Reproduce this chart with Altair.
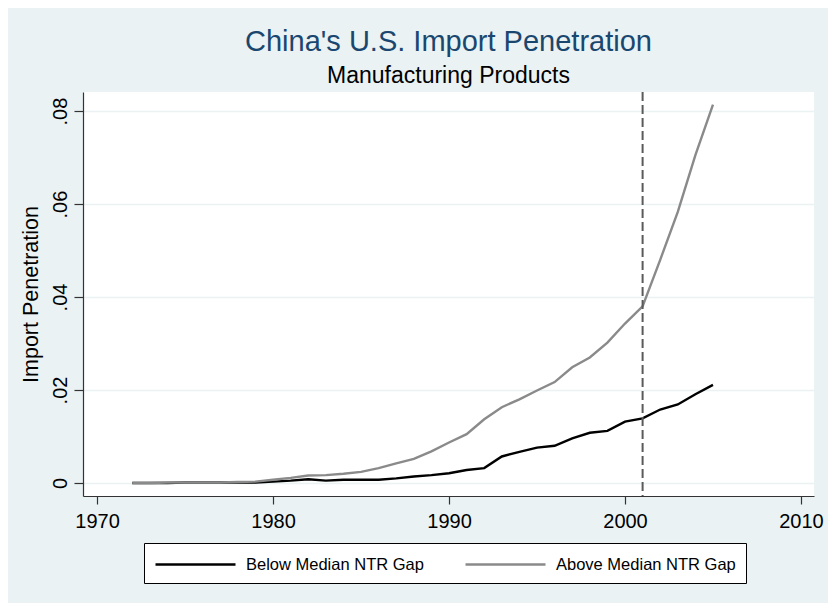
import altair as alt
import pandas as pd

years = list(range(1972, 2006))
below = [0.0000, 0.0000, 0.0000, 0.0001, 0.0001, 0.0001, 0.0001, 0.0001,
         0.0003, 0.0005, 0.0008, 0.0005, 0.0007, 0.0007, 0.0007, 0.0010,
         0.0014, 0.0017, 0.0021, 0.0028, 0.0032, 0.0057, 0.0067, 0.0076,
         0.0080, 0.0096, 0.0108, 0.0112, 0.0132, 0.0139, 0.0158, 0.0169,
         0.0191, 0.0211]
above = [0.0000, 0.0000, 0.0001, 0.0001, 0.0001, 0.0001, 0.0002,
         0.0003, 0.0007, 0.0011, 0.0016, 0.0017, 0.0020, 0.0024, 0.0032,
         0.0042, 0.0052, 0.0068, 0.0087, 0.0105, 0.0137, 0.0163, 0.0180,
         0.0199, 0.0217, 0.0249, 0.0270, 0.0302, 0.0343, 0.0380, 0.0480,
         0.0583, 0.0705, 0.0814]
series_names = ["Below Median NTR Gap", "Above Median NTR Gap"]
series_colors = ["#000000", "#8a8a8a"]
x_ticks = [1970, 1980, 1990, 2000, 2010]
y_ticks = [0, 0.02, 0.04, 0.06, 0.08]
wto_year = [2001]

df_below = pd.DataFrame({"year": years, "value": below, "series": series_names[0]})
df_above = pd.DataFrame({"year": years, "value": above, "series": series_names[1]})
df_rule = pd.DataFrame({"year": wto_year})

FONT = "Liberation Sans"

xscale = alt.Scale(domain=[1969.2, 2010.74], nice=False, zero=False)
yscale = alt.Scale(domain=[-0.0028, 0.0841], nice=False, zero=False)
cscale = alt.Scale(domain=series_names, range=series_colors)

xaxis = alt.Axis(values=x_ticks, format="d", title=None, grid=False,
                 labelFontSize=20, labelPadding=7, tickSize=8)
yaxis = alt.Axis(values=y_ticks, title="Import Penetration", grid=True,
                 labelExpr="datum.value == 0 ? '0' : replace(format(datum.value, '.2f'), '0.', '.')",
                 labelAngle=-90, labelAlign="center", labelBaseline="bottom",
                 labelFontSize=20, labelPadding=4, tickSize=9,
                 titleFontSize=21.5, titlePadding=8)

legend = alt.Legend(title=None, orient="none", legendX=61, legendY=451,
                    direction="horizontal", symbolType="M-1,0H7", symbolSize=400,
                    symbolStrokeWidth=2.5, labelFontSize=16.5, labelOffset=69,
                    labelLimit=400, columnPadding=36, padding=10,
                    strokeColor="black", fillColor="white",
                    labelFont=FONT, labelColor="black")

line_below = alt.Chart(df_below).mark_line(strokeWidth=2.4).encode(
    x=alt.X("year:Q", scale=xscale, axis=xaxis),
    y=alt.Y("value:Q", scale=yscale, axis=yaxis),
    color=alt.Color("series:N", scale=cscale, legend=legend),
)
line_above = alt.Chart(df_above).mark_line(strokeWidth=2.4).encode(
    x=alt.X("year:Q", scale=xscale, axis=xaxis),
    y=alt.Y("value:Q", scale=yscale, axis=yaxis),
    color=alt.Color("series:N", scale=cscale, legend=legend),
)
rule = alt.Chart(df_rule).mark_rule(color="#5a5a5a", strokeWidth=2, strokeDash=[9, 4]).encode(
    x=alt.X("year:Q", scale=xscale),
)

chart = alt.layer(line_below, line_above, rule).properties(
    width=731, height=404,
    autosize=alt.AutoSizeParams(type="none"),
    padding={"left": 75, "top": 84, "right": 14, "bottom": 107},
    background="#eaf2f3",
    title=alt.TitleParams(
        text="China's U.S. Import Penetration",
        subtitle="Manufacturing Products",
        anchor="middle", frame="group", orient="top",
        font=FONT, fontSize=29, fontWeight="normal", color="#1a476f",
        subtitleFont=FONT, subtitleFontSize=23, subtitleColor="black",
        subtitlePadding=8, offset=3,
    ),
).configure_view(fill="white", strokeWidth=0).configure_axis(
    labelFont=FONT, titleFont=FONT, labelColor="black", titleColor="black",
    titleFontWeight="normal", domainColor="#333333", domainWidth=1.2,
    tickColor="#333333", tickWidth=1.2, gridColor="#eaf2f3", gridWidth=1.5,
)

chart.save("out.html", embed_options={"renderer": "svg", "actions": False})
